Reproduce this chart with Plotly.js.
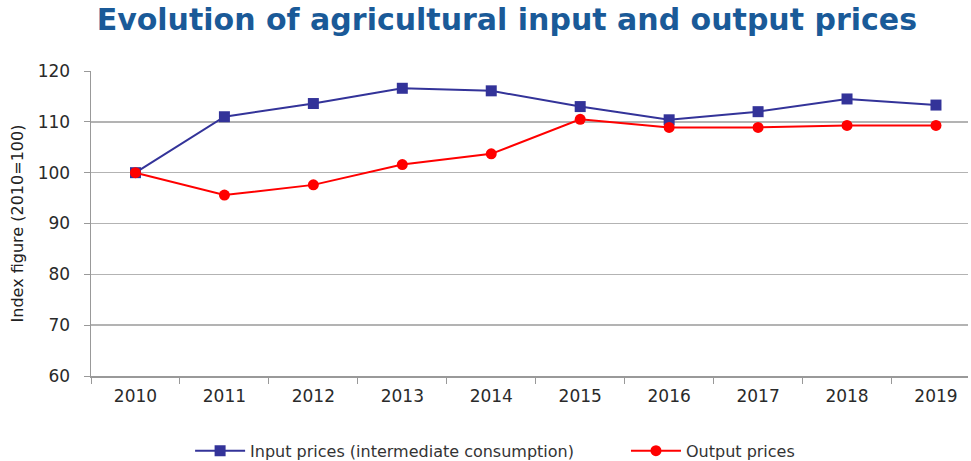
<!DOCTYPE html>
<html>
<head>
<meta charset="utf-8">
<script src="https://cdn.plot.ly/plotly-3.0.1.min.js"></script>
<style>html,body{margin:0;padding:0;background:#fff;}#chart{width:971px;height:461px;}</style>
</head>
<body>
<div id="chart"></div>
<script>
const years = ["2010","2011","2012","2013","2014","2015","2016","2017","2018","2019"];
const inputPrices = [100, 111.0, 113.6, 116.6, 116.1, 113.0, 110.4, 112.0, 114.5, 113.3];
const outputPrices = [100, 95.6, 97.6, 101.6, 103.7, 110.5, 108.9, 108.9, 109.3, 109.3];
const yTicks = [60, 70, 80, 90, 100, 110, 120];

const traces = [
  {x: years, y: inputPrices, type: "scatter", mode: "lines+markers", name: "Input prices (intermediate consumption)",
   legend: "legend",
   line: {color: "#333399", width: 2}, marker: {symbol: "square", size: 11, color: "#333399"}},
  {x: years, y: outputPrices, type: "scatter", mode: "lines+markers", name: "Output prices",
   legend: "legend2",
   line: {color: "#ff0000", width: 2}, marker: {symbol: "circle", size: 11, color: "#ff0000"}}
];

const legendFont = {family: "DejaVu Sans", size: 16, color: "#333"};

const layout = {
  width: 971, height: 461,
  margin: {l: 91, r: 3, t: 71, b: 85, autoexpand: false},
  paper_bgcolor: "#fff", plot_bgcolor: "#fff",
  title: {text: "<b>Evolution of agricultural input and output prices</b>", x: 0.522, xanchor: "center", y: 0.957, yanchor: "middle",
          font: {family: "DejaVu Sans", size: 30, color: "#1a5a98"}},
  xaxis: {type: "category", range: [-0.5, 9.36], showgrid: false, showline: true, linecolor: "#999", linewidth: 1.5,
          ticks: "outside", tickson: "boundaries", ticklen: 6, tickcolor: "#999", ticklabelstandoff: 4,
          tickfont: {family: "DejaVu Sans", size: 17, color: "#2a2a2a"}, fixedrange: true},
  yaxis: {range: [60, 120], tickvals: yTicks, showgrid: true, gridcolor: "#b3b3b3", gridwidth: 1.5,
          showline: true, linecolor: "#999", linewidth: 1.5, ticks: "outside", ticklen: 6, tickcolor: "#999",
          ticklabelstandoff: 10,
          tickfont: {family: "DejaVu Sans", size: 17, color: "#2a2a2a"}, zeroline: false,
          title: {text: "Index figure (2010=100)", font: {family: "DejaVu Sans", size: 16, color: "#222"}, standoff: 10}},
  showlegend: true,
  legend: {orientation: "h", x: 0.113, xanchor: "left", y: -0.245, yanchor: "middle",
           font: legendFont, itemwidth: 50},
  legend2: {orientation: "h", x: 0.610, xanchor: "left", y: -0.245, yanchor: "middle",
           font: legendFont, itemwidth: 50}
};
Plotly.newPlot("chart", traces, layout, {displayModeBar: false, staticPlot: true});
</script>
</body>
</html>
